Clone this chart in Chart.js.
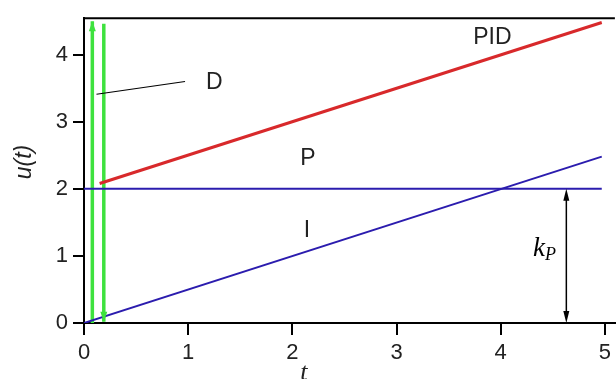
<!DOCTYPE html>
<html>
<head>
<meta charset="utf-8">
<script src="https://cdn.jsdelivr.net/npm/chart.js@4/dist/chart.umd.min.js"></script>
<style>
  html, body { margin: 0; padding: 0; background: #ffffff; }
  #wrap { width: 616px; height: 379px; position: relative; }
</style>
</head>
<body>
<div id="wrap"><canvas id="c" width="616" height="379"></canvas></div>
<script>
// Control signal u(t) of a PID controller for a unit step in the error
const xTicks = [0, 1, 2, 3, 4, 5];
const yTicks = [0, 1, 2, 3, 4];

// proportional part: constant k_P
const pT = [0, 4.97];
const pU = [2, 2];
// integral part: ramp
const iT = [0, 4.97];
const iU = [0, 2.48];
// full PID output (after the derivative impulse)
const pidT = [0.15, 4.97];
const pidU = [2.08, 4.48];
// derivative impulse: rising and falling edges
const dUpT = [0.08, 0.08];
const dUpU = [0, 4.5];
const dDownT = [0.19, 0.19];
const dDownU = [4.46, 0.02];

const RED = '#d8292b';
const BLUE = '#2b1cae';
const GREEN = '#3ee23e';
const SANS = '"Liberation Sans", Arial, sans-serif';
const SERIF = '"Liberation Serif", "Times New Roman", serif';

function pts(xs, ys) { return xs.map((x, i) => ({ x: x, y: ys[i] })); }

function lineSet(xs, ys, color, w) {
  return {
    data: pts(xs, ys), borderColor: color, borderWidth: w,
    showLine: true, pointRadius: 0, fill: false, tension: 0
  };
}

function arrowHead(ctx, x, y, dir, len, half, color) {
  // dir: -1 points up, +1 points down
  ctx.save();
  ctx.fillStyle = color;
  ctx.beginPath();
  ctx.moveTo(x, y);
  ctx.lineTo(x - half, y - dir * len);
  ctx.lineTo(x + half, y - dir * len);
  ctx.closePath();
  ctx.fill();
  ctx.restore();
}

const decor = {
  id: 'decor',
  afterDatasetsDraw(chart) {
    const ctx = chart.ctx;
    const xs = chart.scales.x, ys = chart.scales.y;
    const a = chart.chartArea;
    const X = v => xs.getPixelForValue(v);
    const Y = v => ys.getPixelForValue(v);

    ctx.save();
    // top frame line
    ctx.strokeStyle = '#000';
    ctx.lineWidth = 2;
    ctx.beginPath();
    ctx.moveTo(a.left - 1, a.top);
    ctx.lineTo(a.right, a.top);
    ctx.stroke();

    // arrowheads on the derivative impulse
    arrowHead(ctx, X(dUpT[1]), Y(dUpU[1]), -1, 10, 3.5, GREEN);
    arrowHead(ctx, X(dDownT[1]), Y(dDownU[1]), 1, 10, 3.5, GREEN);

    // leader line for the D label
    ctx.strokeStyle = '#000';
    ctx.lineWidth = 1.2;
    ctx.beginPath();
    ctx.moveTo(X(0.12), Y(3.41));
    ctx.lineTo(X(0.97), Y(3.60));
    ctx.stroke();

    // k_P dimension arrow
    const kx = X(4.63);
    ctx.lineWidth = 1.5;
    ctx.beginPath();
    ctx.moveTo(kx, Y(2) + 6);
    ctx.lineTo(kx, Y(0) - 6);
    ctx.stroke();
    arrowHead(ctx, kx, Y(2), -1, 12, 3, '#000');
    arrowHead(ctx, kx, Y(0), 1, 12, 3, '#000');

    // labels
    ctx.fillStyle = '#222';
    ctx.textAlign = 'center';
    ctx.textBaseline = 'middle';
    ctx.font = '23px ' + SANS;
    ctx.fillText('PID', X(3.92), Y(4.26));
    ctx.fillText('D', X(1.25), Y(3.58));
    ctx.fillText('P', X(2.15), Y(2.45));
    ctx.fillText('I', X(2.14), Y(1.38));

    // k_P
    ctx.fillStyle = '#000';
    ctx.textAlign = 'left';
    ctx.font = 'italic 27px ' + SERIF;
    const kL = X(4.31);
    ctx.fillText('k', kL, Y(1.10));
    const kw = ctx.measureText('k').width;
    ctx.font = 'italic 18px ' + SERIF;
    ctx.fillText('P', kL + kw, Y(1.10) + 6);

    // axis titles
    ctx.fillStyle = '#222';
    ctx.textAlign = 'center';
    ctx.font = 'italic 23px ' + SANS;
    ctx.save();
    ctx.translate(25, 162);
    ctx.rotate(-Math.PI / 2);
    ctx.fillText('u(t)', 0, 0);
    ctx.restore();
    ctx.font = 'italic 26px ' + SERIF;
    ctx.fillText('t', X(2.11), 373);
    ctx.restore();
  }
};

new Chart(document.getElementById('c'), {
  type: 'scatter',
  data: {
    datasets: [
      lineSet(iT, iU, BLUE, 2),
      lineSet(pT, pU, BLUE, 2),
      lineSet(pidT, pidU, RED, 3),
      lineSet(dUpT, dUpU, GREEN, 3.5),
      lineSet(dDownT, dDownU, GREEN, 3.5)
    ]
  },
  options: {
    responsive: false,
    animation: false,
    events: [],
    layout: { padding: { top: 14, right: 0, left: 0, bottom: 0 } },
    plugins: { legend: { display: false }, tooltip: { enabled: false } },
    scales: {
      x: {
        type: 'linear', min: 0, max: 5.096,
        afterBuildTicks: s => { s.ticks = xTicks.map(v => ({ value: v })); },
        afterFit: s => { s.height = 56; },
        grid: { drawOnChartArea: false, drawTicks: true, tickLength: 12, color: '#000', lineWidth: 2 },
        border: { display: true, color: '#000', width: 2 },
        ticks: { color: '#222', padding: 5, maxRotation: 0, font: { family: SANS, size: 22 } }
      },
      y: {
        type: 'linear', min: 0, max: 4.544,
        afterBuildTicks: s => { s.ticks = yTicks.map(v => ({ value: v })); },
        afterFit: s => { s.width = 84; },
        grid: { drawOnChartArea: false, drawTicks: true, tickLength: 11, color: '#000', lineWidth: 2 },
        border: { display: true, color: '#000', width: 2 },
        ticks: { color: '#222', padding: 5, font: { family: SANS, size: 22 } }
      }
    }
  },
  plugins: [decor]
});
</script>
</body>
</html>
